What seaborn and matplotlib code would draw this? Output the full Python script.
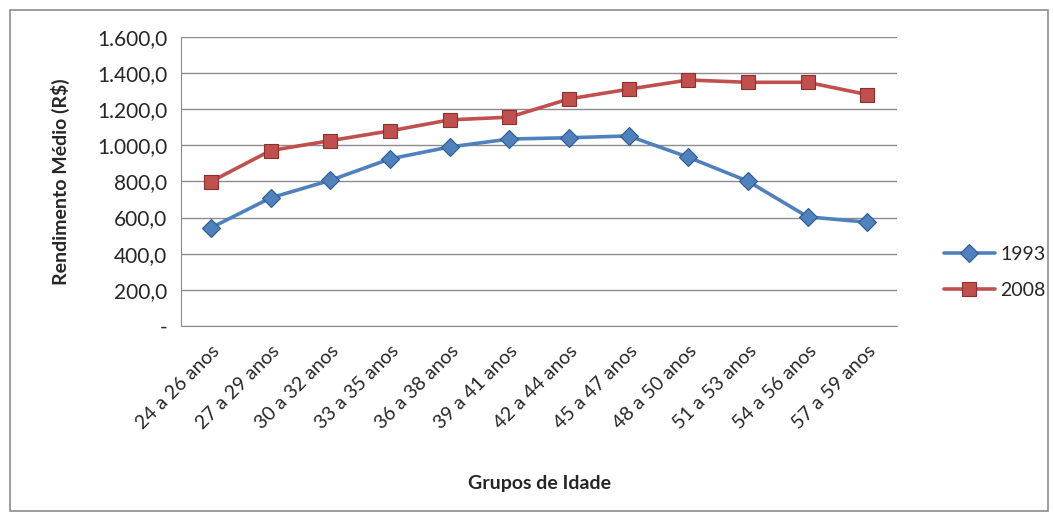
import pandas as pd
import matplotlib.pyplot as plt
import matplotlib.ticker as mticker
from matplotlib.patches import Rectangle
import seaborn as sns

# Data
grupos = ['24 a 26 anos', '27 a 29 anos', '30 a 32 anos', '33 a 35 anos',
          '36 a 38 anos', '39 a 41 anos', '42 a 44 anos', '45 a 47 anos',
          '48 a 50 anos', '51 a 53 anos', '54 a 56 anos', '57 a 59 anos']
rend_1993 = [543, 709, 806, 925, 991, 1035, 1042, 1052, 934, 801, 604, 574]
rend_2008 = [799, 971, 1026, 1080, 1141, 1156, 1257, 1311, 1362, 1349, 1349, 1281]
anos = ['1993', '2008']

df = pd.DataFrame({
    'grupo': grupos * 2,
    'valor': rend_1993 + rend_2008,
    'ano': [anos[0]] * len(grupos) + [anos[1]] * len(grupos),
})

sns.set_style("white")
plt.rcParams['font.family'] = ['Lato', 'DejaVu Sans']
fs = 14

fig = plt.figure(figsize=(10.53, 5.14), dpi=100)
ax = fig.add_axes([0.172, 0.366, 0.680, 0.562])

palette = {'1993': '#4f81bd', '2008': '#c0504d'}
sns.lineplot(data=df, x='grupo', y='valor', hue='ano', style='ano',
             markers={'1993': 'D', '2008': 's'}, dashes=False,
             palette=palette, linewidth=2.6, markersize=9.5,
             markeredgewidth=0.8, ax=ax, sort=False, legend=False)
for line, edge in zip(ax.get_lines(), ['#2c5a91', '#8c2f2d']):
    line.set_markeredgecolor(edge)

ax.set_xlim(-0.5, len(grupos) - 0.5)
ax.set_ylim(0, 1600)
ax.yaxis.set_major_locator(mticker.MultipleLocator(200))


def fmt(v, pos):
    if v == 0:
        return '-'
    s = f"{v:,.1f}"
    return s.replace(',', 'X').replace('.', ',').replace('X', '.')


ax.yaxis.set_major_formatter(mticker.FuncFormatter(fmt))
ax.grid(axis='y', color='#8c8c8c', linewidth=1)
ax.set_axisbelow(True)
for s in ['top', 'right']:
    ax.spines[s].set_visible(False)
ax.spines['left'].set_color('#8c8c8c')
ax.spines['bottom'].set_color('#8c8c8c')
ax.tick_params(axis='y', length=5, color='#8c8c8c', labelsize=15, pad=5)
ax.tick_params(axis='x', length=0, labelsize=fs, pad=12)
plt.setp(ax.get_xticklabels(), rotation=45, ha='right', rotation_mode='anchor')

ax.set_xlabel('Grupos de Idade', fontsize=fs, fontweight='bold')
ax.set_ylabel('Rendimento Médio (R$)', fontsize=fs, fontweight='bold')
ax.yaxis.set_label_coords(-0.155, 0.5)
ax.xaxis.set_label_coords(0.5, -0.515)

fig.legend(handles=ax.get_lines(), labels=anos, loc='center left',
           bbox_to_anchor=(0.880, 0.47), frameon=False, fontsize=fs,
           handlelength=2.6, labelspacing=1.0, handletextpad=0.3)

fig.patches.append(Rectangle((10 / 1053, 3 / 514), 1038 / 1053, 501 / 514,
                             transform=fig.transFigure, fill=False,
                             edgecolor='#8c8c8c', linewidth=1.2))

fig.savefig('out.png', dpi=100)
